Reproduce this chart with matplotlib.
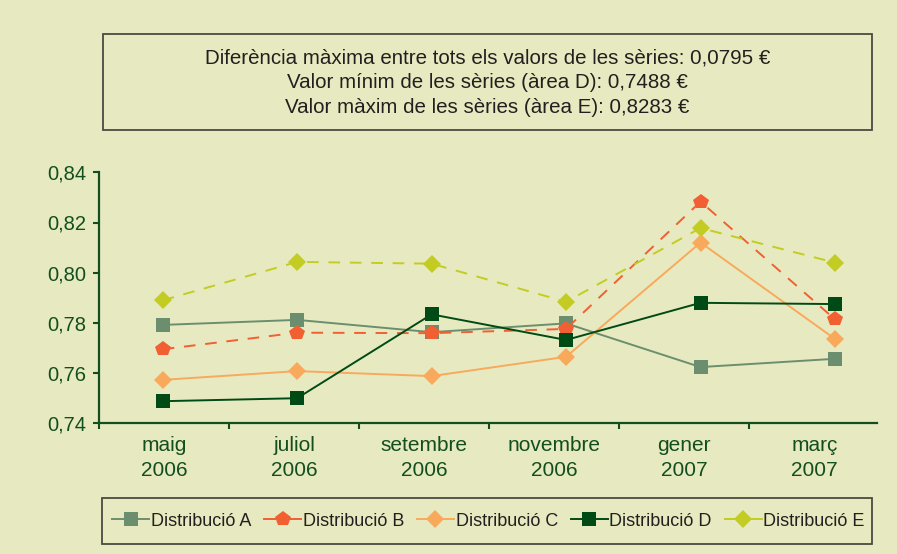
import numpy as np
import matplotlib
matplotlib.use("Agg")
import matplotlib.pyplot as plt
from matplotlib.lines import Line2D
from matplotlib.patches import Rectangle
from matplotlib.ticker import FuncFormatter

plt.rcParams['font.family'] = ['Liberation Sans', 'DejaVu Sans']

# ---- data ----
months = ["maig", "juliol", "setembre", "novembre", "gener", "març"]
years = ["2006", "2006", "2006", "2006", "2007", "2007"]
series_names = ["Distribució A", "Distribució B", "Distribució C", "Distribució D", "Distribució E"]
dist_a = [0.7792, 0.7812, 0.7763, 0.7798, 0.7624, 0.7657]
dist_b = [0.7695, 0.7761, 0.7759, 0.7776, 0.8283, 0.7814]
dist_c = [0.7573, 0.7608, 0.7588, 0.7665, 0.8120, 0.7736]
dist_d = [0.7488, 0.7500, 0.7834, 0.7732, 0.7880, 0.7875]
dist_e = [0.7890, 0.8043, 0.8036, 0.7884, 0.8178, 0.8040]
yticks = [0.74, 0.76, 0.78, 0.80, 0.82, 0.84]
title_lines = [
    "Diferència màxima entre tots els valors de les sèries: 0,0795 €",
    "Valor mínim de les sèries (àrea D): 0,7488 €",
    "Valor màxim de les sèries (àrea E): 0,8283 €",
]

# ---- style ----
bg = "#E7EAC0"
axis_col = "#134F1E"
text_col = "#231F20"
box_col = "#4A4A42"
colors = ["#6B8F6E", "#F15F32", "#F9A95C", "#004A15", "#C3CC23"]
markers = ["s", "p", "D", "s", "D"]
msizes = [10, 11.5, 9.2, 10, 9.2]
dashed = [False, True, False, False, True]

W, H = 897, 554
fig = plt.figure(figsize=(W / 100, H / 100), dpi=100, facecolor=bg)
ax = fig.add_axes([99.3 / W, (H - 423.3) / H, (877 - 99.3) / W, (423.3 - 172.3) / H])
ax.set_facecolor(bg)

x = np.arange(len(months))
data = [dist_a, dist_b, dist_c, dist_d, dist_e]
for vals, col, mk, ms, dsh, name in zip(data, colors, markers, msizes, dashed, series_names):
    ls = (0, (6, 5)) if dsh else "-"
    ax.plot(x, vals, color=col, lw=1.4, linestyle=ls, marker=mk, markersize=ms,
            markerfacecolor=col, markeredgewidth=0, label=name, clip_on=False)

# x axis layout: category boundaries (ticks) and centred labels
step = 134.46
x0 = (99.3 - 162.7) / step
x1 = (877 - 162.7) / step
cat_w = 130 / step
ax.set_xlim(x0, x1)
ax.set_ylim(0.74, 0.84)
bounds = x0 + cat_w * np.arange(len(months))
centers = x0 + cat_w * (np.arange(len(months)) + 0.5)
ax.set_xticks(bounds)
ax.set_xticklabels([])
ax.set_xticks(centers, minor=True)
ax.set_xticklabels([f"{m}\n{y}" for m, y in zip(months, years)], minor=True, linespacing=1.4)
ax.tick_params(axis="x", which="major", direction="out", length=4.5, width=1.5, color=axis_col)
ax.tick_params(axis="x", which="minor", length=0, pad=9, labelsize=15, labelcolor=axis_col)
ax.set_yticks(yticks)
ax.yaxis.set_major_formatter(FuncFormatter(lambda v, p: f"{v:.2f}".replace(".", ",")))
ax.tick_params(axis="y", direction="out", length=4.5, width=1.5, color=axis_col,
               labelsize=14.5, labelcolor=axis_col, pad=5)
for s in ["top", "right"]:
    ax.spines[s].set_visible(False)
for s in ["left", "bottom"]:
    ax.spines[s].set_color(axis_col)
    ax.spines[s].set_linewidth(1.6)

# title box
fig.add_artist(Rectangle((103 / W, 1 - 130 / H), (872 - 103) / W, (130 - 34) / H,
                         transform=fig.transFigure, fill=False, ec=box_col, lw=1.3))
for i, line in enumerate(title_lines):
    fig.text(487.5 / W, 1 - (63.3 + 25 * i) / H, line, ha="center", va="baseline",
             fontsize=14.8, color=text_col)

# legend
fig.add_artist(Rectangle((102 / W, 1 - 544 / H), (872 - 102) / W, (544 - 498) / H,
                         transform=fig.transFigure, fill=False, ec=box_col, lw=1.3))
handles = [Line2D([0], [0], color=c, lw=1.4, marker=m, markersize=ms, markeredgewidth=0)
           for c, m, ms in zip(colors, markers, msizes)]
leg = fig.legend(handles, series_names, loc="center", bbox_to_anchor=(488.5 / W, 1 - 521 / H),
                 ncol=5, fontsize=13, frameon=False, handlelength=2.05, handletextpad=0.1,
                 columnspacing=0.7, borderpad=0.0, labelcolor=text_col)

fig.savefig("out.png", dpi=100, facecolor=bg)
